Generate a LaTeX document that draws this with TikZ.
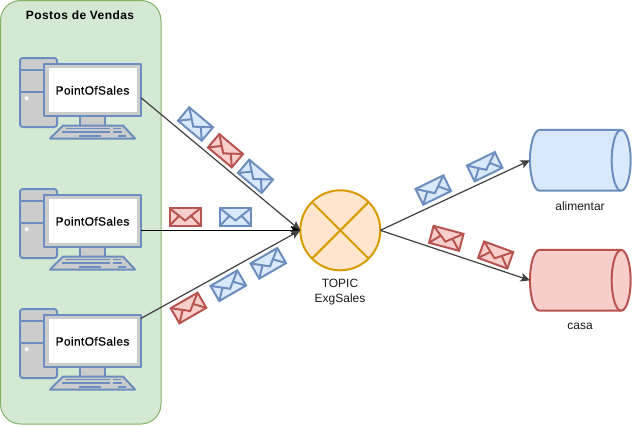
\documentclass[tikz,border=0pt]{standalone}
\usepackage{fontspec}
\setmainfont{Liberation Sans}
\newfontfamily\pclabel[FakeBold=0.5,LetterSpace=2.8]{Liberation Sans}
\newfontfamily\titlefont[LetterSpace=3.5]{Liberation Sans Bold}
\usetikzlibrary{arrows.meta}
\definecolor{gfill}{HTML}{D5E8D4}\definecolor{gline}{HTML}{82B366}
\definecolor{bfill}{HTML}{DAE8FC}\definecolor{bline}{HTML}{6C8EBF}
\definecolor{rfill}{HTML}{F8CECC}\definecolor{rline}{HTML}{B85450}
\definecolor{ofill}{HTML}{FFE6CC}\definecolor{oline}{HTML}{D79B00}
\definecolor{pcgrey}{HTML}{CCCCCC}
\newcommand{\cylshape}[3]{%
  \node[minimum width=75.5pt, minimum height=45.5pt] (#1) at (#2) {};
  \path[#3, line width=1.5pt] ([xshift=7.1pt]#1.north west) -- ([xshift=-7.1pt]#1.north east)
    arc[start angle=90, end angle=-90, x radius=7.1pt, y radius=22.75pt]
    -- ([xshift=7.1pt]#1.south west)
    arc[start angle=270, end angle=90, x radius=7.1pt, y radius=22.75pt] -- cycle;
  \path[#3, fill=none, line width=1.5pt] ([xshift=-7.1pt]#1.north east)
    arc[start angle=90, end angle=270, x radius=7.1pt, y radius=22.75pt];
}
\tikzset{
  every node/.style={font=\fontsize{9}{11.25}\selectfont, inner sep=0pt, outer sep=0pt},
  pcpart/.style={draw=bline, fill=pcgrey, line width=1.5pt, line join=round},
  envblue/.style={draw=bline, fill=bfill},
  envred/.style={draw=rline, fill=rfill},
  conn/.style={draw=black!75, line width=0.9pt, -{Stealth[length=7pt,width=6.5pt,inset=1.5pt]}},
  connk/.style={conn, draw=black},
  keyrow/.style={draw=bline, line width=1.4pt},
  lbl/.style={align=center, text=black!90},
  pics/envelope/.style={code={
    \draw[#1, line width=1.5pt, line join=miter] (-15.5,-8.75) rectangle (15.5,8.75);
    \draw[#1, line width=1.5pt, line join=miter, fill=none] (-15.5,-8.75) -- (0,3.5) -- (15.5,-8.75);
    \draw[#1, line width=1.5pt, fill=none] (-15.5,8.75) -- (-6,-1.2) (15.5,8.75) -- (6,-1.2);
  }},
  pics/computer/.style={code={
    \draw[pcpart, rounded corners=2pt] (20,58) rectangle (57,127);
    \draw[bline, line width=1.5pt] (20,69.5) -- (57,69.5) (20,92) -- (57,92);
    \fill[white] (26.7,98.3) circle[radius=2];
    \draw[pcpart] (80,116) rectangle (105,126);
    \draw[pcpart] (63,125.5) -- (123,125.5) -- (135,138.5) -- (50,138.5) -- cycle;
    \draw[keyrow] (66,128.5) -- (110,128.5) (113,128.5) -- (121,128.5)
                  (62,132) -- (110,132) (113,132) -- (122,132)
                  (79,135.7) -- (101,135.7) (118,135.7) -- (126,135.7);
    \node[pcpart, minimum width=72.75pt, minimum height=39pt] (-mon) at (92.5,90) {};
    \node[fill=white, minimum width=66pt, minimum height=33pt] at (92.5,89.5) {};
    \node (-txt) at (92.5,90.3) {\pclabel PointOfSales};
  }}
}
\begin{document}
\begin{tikzpicture}[x=0.75pt,y=-0.75pt]
\useasboundingbox (0,0) rectangle (632,426);
\path[draw=gline, fill=gfill, line width=0.75pt, rounded corners=15pt] (0.5,0.5) rectangle (161,424);
\node (title) at (80,15.5) {\titlefont Postos de Vendas};
\pic (p1) at (0,0) {computer};
\pic (p2) at (0,131) {computer};
\pic (p3) at (0,251) {computer};
\node[circle, draw=oline, fill=ofill, line width=1.5pt, minimum size=60pt] (topic) at (340.3,230.3) {};
\draw[oline, line width=1.5pt] (topic.45) -- (topic.225) (topic.135) -- (topic.315);
\node[lbl] (tl) at (340,292.5) {TOPIC\\ExgSales};
\cylshape{ali}{580.3,160.3}{draw=bline, fill=bfill}
\cylshape{casa}{580.3,280.3}{draw=rline, fill=rfill}
\node[lbl] (la) at (580,206) {alimentar};
\node[lbl] (lc) at (580,326) {casa};
\draw[conn] (p1-mon.-9.4) -- (topic.west);
\draw[connk] (p2-mon.east) ++(0,9.3) -- (topic.west);
\draw[conn] (p3-mon.25.4) -- (topic.west);
\draw[conn] (topic.east) -- (ali.west);
\draw[conn] (topic.east) -- (casa.west);
\pic[rotate=-40] at (195.5,124) {envelope=envblue};
\pic[rotate=-40] at (225.5,150.7) {envelope=envred};
\pic[rotate=-40] at (255.5,176.3) {envelope=envblue};
\pic at (185,217) {envelope=envred};
\pic at (235.5,217) {envelope=envblue};
\pic[rotate=30] at (188.5,308) {envelope=envred};
\pic[rotate=30] at (228.3,285.7) {envelope=envblue};
\pic[rotate=30] at (268.3,263.3) {envelope=envblue};
\pic[rotate=26] at (433.3,190) {envelope=envblue};
\pic[rotate=26] at (484.7,166.7) {envelope=envblue};
\pic[rotate=-15] at (446.3,238.3) {envelope=envred};
\pic[rotate=-20] at (495.7,255) {envelope=envred};
\end{tikzpicture}
\end{document}
